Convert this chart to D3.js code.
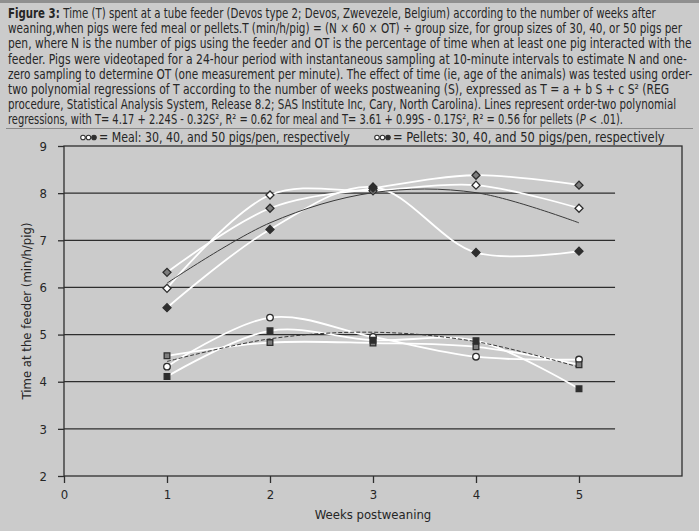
<!DOCTYPE html>
<html>
<head>
<meta charset="utf-8">
<script src="https://cdn.jsdelivr.net/npm/d3@7/dist/d3.min.js"></script>
<style>
  body { margin: 0; background: #cbcbcb; }
  svg { display: block; }
  text { font-family: 'Liberation Sans Narrow', 'DejaVu Sans Condensed', 'Roboto', sans-serif; fill: #262626; }
</style>
</head>
<body>
<div class="chart"></div>
<script>
const width = 699
const height = 531

// data
const weeks = [1, 2, 3, 4, 5]
const meal30 = [5.98, 7.96, 8.05, 8.17, 7.68]
const meal40 = [6.32, 7.68, 8.10, 8.38, 8.17]
const meal50 = [5.57, 7.23, 8.13, 6.74, 6.77]
const pellet30 = [4.32, 5.36, 4.95, 4.53, 4.47]
const pellet40 = [4.55, 4.83, 4.82, 4.74, 4.36]
const pellet50 = [4.11, 5.08, 4.88, 4.87, 3.85]
// fitted order-two regressions, values at weeks 1..5
const mealFit = [6.09, 7.37, 8.01, 8.01, 7.37]
const pelletFit = [4.43, 4.91, 5.05, 4.85, 4.31]
const yTicks = [2, 3, 4, 5, 6, 7, 8, 9]
const xTicks = [0, 1, 2, 3, 4, 5]

const caption = [
  ['Figure 3: ', 'Time (T) spent at a tube feeder (Devos type 2; Devos, Zwevezele, Belgium) according to the number of weeks after'],
  ['', 'weaning,when pigs were fed meal or pellets.T (min/h/pig) = (N × 60 × OT) ÷ group size, for group sizes of 30, 40, or 50 pigs per'],
  ['', 'pen, where N is the number of pigs using the feeder and OT is the percentage of time when at least one pig interacted with the'],
  ['', 'feeder. Pigs were videotaped for a 24-hour period with instantaneous sampling at 10-minute intervals to estimate N and one-'],
  ['', 'zero sampling to determine OT (one measurement per minute). The effect of time (ie, age of the animals) was tested using order-'],
  ['', 'two polynomial regressions of T according to the number of weeks postweaning (S), expressed as T = a + b S + c S² (REG'],
  ['', 'procedure, Statistical Analysis System, Release 8.2; SAS Institute Inc, Cary, North Carolina). Lines represent order-two polynomial'],
  ['', 'regressions, with T= 4.17 + 2.24S - 0.32S², R² = 0.62 for meal and T= 3.61 + 0.99S - 0.17S², R² = 0.56 for pellets (P < .01).']
]
const captionEnds = [656, 683, 692, 688, 693, 670, 677, 623]

const theme = {
  bg: '#cbcbcb',
  dark: '#2e2e2e',
  mid: '#7d7d7d',
  open: '#ffffff',
  line: '#ffffff'
}

const svg = d3.select('.chart').append('svg')
  .attr('width', width)
  .attr('height', height)

svg.append('rect').attr('width', width).attr('height', height).attr('fill', theme.bg)
svg.append('rect').attr('width', width).attr('height', 3).attr('fill', '#8f8f8f')

// squeeze a text horizontally so it spans from x0 to x1
function fitText(t, x0, y0, x1) {
  const w = t.node().getComputedTextLength()
  const s = Math.min(1.2, (x1 - x0) / w)
  t.attr('transform', `translate(${x0},${y0}) scale(${s},1)`)
}

// caption
const cap = svg.append('g').attr('class', 'caption')
caption.forEach((c, i) => {
  const t = cap.append('text')
    .attr('font-size', 14.5)
  if (c[0]) t.append('tspan').attr('font-weight', 'bold').text(c[0])
  if (i === 7) {
    t.append('tspan').text(c[1].replace('(P < .01).', '('))
    t.append('tspan').attr('font-style', 'italic').text('P')
    t.append('tspan').text(' < .01).')
  } else {
    t.append('tspan').text(c[1])
  }
  fitText(t, 8, 18 + i * 15.2, captionEnds[i])
})
svg.append('line')
  .attr('x1', 6).attr('x2', 693)
  .attr('y1', 128.5).attr('y2', 128.5)
  .attr('stroke', '#8a8a8a').attr('stroke-width', 1)

const x = d3.scaleLinear().domain([0, 6]).range([64, 682])
const y = d3.scaleLinear().domain([2, 9]).range([476, 146])

// frame
svg.append('rect')
  .attr('x', x(0)).attr('y', y(9))
  .attr('width', x(6) - x(0)).attr('height', y(2) - y(9))
  .attr('fill', 'none').attr('stroke', theme.dark).attr('stroke-width', 1.3)

// gridlines
svg.append('g').selectAll('line')
  .data(yTicks.filter(d => d > 2 && d < 9))
  .join('line')
  .attr('x1', x(0)).attr('x2', x(5.35))
  .attr('y1', d => y(d)).attr('y2', d => y(d))
  .attr('stroke', theme.dark).attr('stroke-width', 1.3)

// axes
const yAxis = svg.append('g')
  .attr('transform', `translate(${x(0)},0)`)
  .call(d3.axisLeft(y).tickValues(yTicks).tickFormat(d3.format('d')).tickSize(6).tickPadding(11))
const xAxis = svg.append('g')
  .attr('transform', `translate(0,${y(2)})`)
  .call(d3.axisBottom(x).tickValues(xTicks).tickFormat(d3.format('d')).tickSize(7).tickPadding(7))
;[yAxis, xAxis].forEach(a => {
  a.select('.domain').remove()
  a.selectAll('line').attr('stroke', theme.dark).attr('stroke-width', 1.3)
  a.selectAll('text').attr('font-size', 13).attr('font-family', null).attr('fill', '#333')
})

svg.append('text')
  .attr('x', x(3)).attr('y', 519)
  .attr('text-anchor', 'middle').attr('font-size', 13)
  .text('Weeks postweaning')
svg.append('text')
  .attr('transform', `translate(31,${(y(2) + y(9)) / 2}) rotate(-90)`)
  .attr('text-anchor', 'middle').attr('font-size', 13)
  .text('Time at the feeder (min/h/pig)')

// series
const series = [
  { v: meal30, fill: theme.open, shape: 'diamond' },
  { v: meal40, fill: theme.mid, shape: 'diamond' },
  { v: meal50, fill: theme.dark, shape: 'diamond' },
  { v: pellet30, fill: theme.open, shape: 'circle' },
  { v: pellet40, fill: theme.mid, shape: 'square' },
  { v: pellet50, fill: theme.dark, shape: 'square' }
]

const smooth = d3.line()
  .x((d, i) => x(weeks[i]))
  .y(d => y(d))
  .curve(d3.curveCatmullRom.alpha(0.5))

svg.append('g').selectAll('path')
  .data(series)
  .join('path')
  .attr('d', d => smooth(d.v))
  .attr('fill', 'none')
  .attr('stroke', theme.line)
  .attr('stroke-width', 1.8)

svg.append('path')
  .attr('d', smooth(mealFit))
  .attr('fill', 'none').attr('stroke', '#3a3a3a').attr('stroke-width', 1)
svg.append('path')
  .attr('d', smooth(pelletFit))
  .attr('fill', 'none').attr('stroke', '#3a3a3a').attr('stroke-width', 1)
  .attr('stroke-dasharray', '4,2')

const symbols = {
  diamond: { type: d3.symbolSquare, size: 32, rot: 45 },
  circle: { type: d3.symbolCircle, size: 34, rot: 0 },
  square: { type: d3.symbolSquare, size: 32, rot: 0 }
}
const marks = svg.append('g')
series.forEach(s => {
  const sym = symbols[s.shape]
  marks.selectAll(null)
    .data(s.v)
    .join('path')
    .attr('transform', (d, i) => `translate(${x(weeks[i])},${y(d)}) rotate(${sym.rot})`)
    .attr('d', d3.symbol().type(sym.type).size(sym.size))
    .attr('fill', s.fill)
    .attr('stroke', theme.dark)
    .attr('stroke-width', 1.3)
})

// legend
const legend = [
  { x: 83, end: 350, label: '= Meal: 30, 40, and 50 pigs/pen, respectively', fills: [theme.open, theme.open, theme.dark] },
  { x: 377, end: 665, label: '= Pellets: 30, 40, and 50 pigs/pen, respectively', fills: [theme.open, theme.open, theme.dark] }
]
legend.forEach(l => {
  const g = svg.append('g').attr('transform', `translate(${l.x},137.5)`)
  g.selectAll('path')
    .data(l.fills)
    .join('path')
    .attr('transform', (d, i) => `translate(${i * 5.5},0)`)
    .attr('d', d3.symbol().type(d3.symbolCircle).size(16))
    .attr('fill', d => d)
    .attr('stroke', theme.dark)
    .attr('stroke-width', 1.1)
  const t = g.append('text')
    .attr('font-size', 13.5)
    .text(l.label)
  fitText(t, 16, 4.5, l.end - l.x)
})
</script>
</body>
</html>
